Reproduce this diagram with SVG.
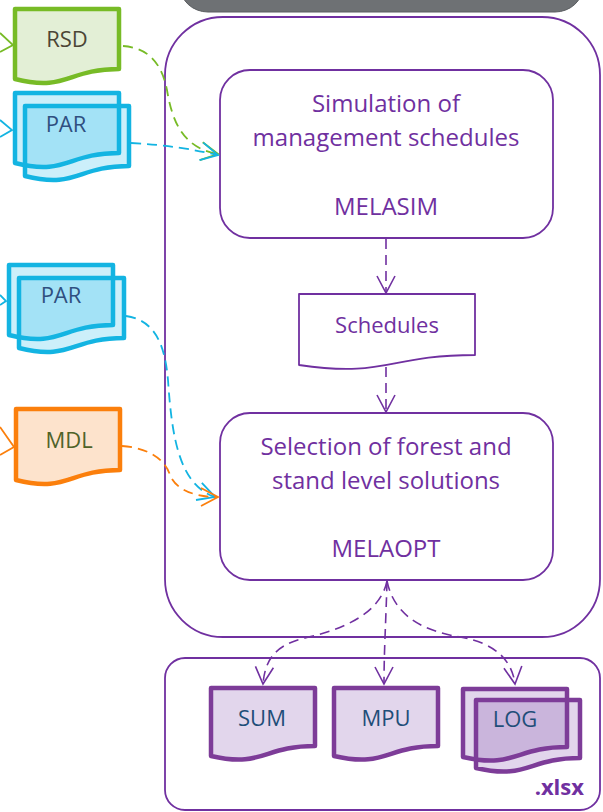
<svg xmlns="http://www.w3.org/2000/svg" width="603" height="812" viewBox="0 0 603 812">
<style>
text{font-family:"Open Sans","Liberation Sans",Arial,sans-serif}
.box{fill:#fff;stroke:#7030a0;stroke-width:1.8}
.ptxt{fill:#7030a0;font-size:24px;text-anchor:middle}
.doc{stroke-width:4.5;stroke-linejoin:round}
.dtxt{font-size:22px;text-anchor:middle}
.pl{fill:none;stroke:#7030a0;stroke-width:1.6;stroke-dasharray:10 6}
.gl{fill:none;stroke:#77bb26;stroke-width:1.8;stroke-dasharray:10 6}
.cl{fill:none;stroke:#13b4e2;stroke-width:1.8;stroke-dasharray:10 6}
.ol{fill:none;stroke:#fb7f0c;stroke-width:1.8;stroke-dasharray:10 6}
</style>
<defs>
<marker id="ap" markerUnits="userSpaceOnUse" viewBox="-20 -12 24 24" refX="0" refY="0" markerWidth="24" markerHeight="24" orient="auto"><path d="M-17,-9 L0,0 L-17,9" fill="none" stroke="#7030a0" stroke-width="1.6"/></marker>
<marker id="ag" markerUnits="userSpaceOnUse" viewBox="-20 -12 24 24" refX="0" refY="0" markerWidth="24" markerHeight="24" orient="auto"><path d="M-17,-9 L0,0 L-17,9" fill="none" stroke="#77bb26" stroke-width="1.8"/></marker>
<marker id="ac" markerUnits="userSpaceOnUse" viewBox="-20 -12 24 24" refX="0" refY="0" markerWidth="24" markerHeight="24" orient="auto"><path d="M-17,-9 L0,0 L-17,9" fill="none" stroke="#13b4e2" stroke-width="1.8"/></marker>
<marker id="ao" markerUnits="userSpaceOnUse" viewBox="-20 -12 24 24" refX="0" refY="0" markerWidth="24" markerHeight="24" orient="auto"><path d="M-17,-9 L0,0 L-17,9" fill="none" stroke="#fb7f0c" stroke-width="1.8"/></marker>
</defs>

<g id="top-bar"><rect x="180" y="-40" width="403" height="52" rx="28" fill="#6e7174" stroke="#5a5d60" stroke-width="1"/></g>

<g id="container"><rect class="box" x="165" y="17" width="435" height="620" rx="58"/></g>
<g id="output-container">
<rect class="box" x="165" y="658" width="435" height="152" rx="20"/>
<text x="584" y="795" text-anchor="end" font-size="22" font-weight="bold" fill="#7030a0">.xlsx</text>
</g>

<g id="melasim">
<rect class="box" x="220" y="70" width="333" height="168" rx="30"/>
<text class="ptxt" x="386" y="112">Simulation of</text>
<text class="ptxt" x="386" y="146">management schedules</text>
<text class="ptxt" x="386" y="215">MELASIM</text>
</g>

<g id="schedules">
<path d="M299,294 H475 V355 C387,355 387,378 299,365 Z" fill="#fff" stroke="#7030a0" stroke-width="1.8" stroke-linejoin="round"/>
<text x="387" y="333" font-size="22" text-anchor="middle" fill="#7030a0">Schedules</text>
</g>

<g id="melaopt">
<rect class="box" x="220" y="413" width="333" height="167" rx="30"/>
<text class="ptxt" x="386" y="455">Selection of forest and</text>
<text class="ptxt" x="386" y="489">stand level solutions</text>
<text class="ptxt" x="386" y="557">MELAOPT</text>
</g>

<g id="rsd">
<path class="doc" d="M15,9 H119 V69 C67,69 67,92 15,79 Z" fill="#e3efd6" stroke="#77bb26"/>
<text class="dtxt" x="67" y="47" font-size="21" fill="#4b4535">RSD</text>
</g>

<g id="par1">
<path d="M15,93 H119 V153 C67,153 67,176 15,163 Z" fill="#00aee6" fill-opacity="0.2"/>
<path d="M25,106 H129 V166 C77,166 77,189 25,176 Z" fill="#00aee6" fill-opacity="0.2"/>
<path class="doc" d="M15,93 H119 V153 C67,153 67,176 15,163 Z" fill="none" stroke="#13b4e2"/>
<path class="doc" d="M25,106 H129 V166 C77,166 77,189 25,176 Z" fill="none" stroke="#13b4e2"/>
<text class="dtxt" x="66" y="132" fill="#2f4f80">PAR</text>
</g>

<g id="par2">
<path d="M9,265 H113 V325 C61,325 61,348 9,335 Z" fill="#00aee6" fill-opacity="0.2"/>
<path d="M19,278 H124 V338 C71,338 71,361 19,348 Z" fill="#00aee6" fill-opacity="0.2"/>
<path class="doc" d="M9,265 H113 V325 C61,325 61,348 9,335 Z" fill="none" stroke="#13b4e2"/>
<path class="doc" d="M19,278 H124 V338 C71,338 71,361 19,348 Z" fill="none" stroke="#13b4e2"/>
<text class="dtxt" x="61" y="303" fill="#2f4f80">PAR</text>
</g>

<g id="mdl">
<path class="doc" d="M16,409 H120 V470 C68,470 68,493 16,480 Z" fill="#fde3cc" stroke="#fb7f0c"/>
<text class="dtxt" x="69" y="448" fill="#4f6228">MDL</text>
</g>

<g id="sum">
<path class="doc" d="M211,688 H315 V746 C263,746 263,768 211,756 Z" fill="#7030a0" fill-opacity="0.2" stroke="#7d3c98"/>
<text class="dtxt" x="262" y="726" fill="#1f4e79">SUM</text>
</g>
<g id="mpu">
<path class="doc" d="M334,688 H438 V746 C386,746 386,768 334,756 Z" fill="#7030a0" fill-opacity="0.2" stroke="#7d3c98"/>
<text class="dtxt" x="386" y="726" fill="#1f4e79">MPU</text>
</g>
<g id="log">
<path d="M463,689 H567 V747 C515,747 515,769 463,757 Z" fill="#7030a0" fill-opacity="0.2"/>
<path d="M476,700 H580 V758 C528,758 528,780 476,768 Z" fill="#7030a0" fill-opacity="0.2"/>
<path class="doc" d="M463,689 H567 V747 C515,747 515,769 463,757 Z" fill="none" stroke="#7d3c98"/>
<path class="doc" d="M476,700 H580 V758 C528,758 528,780 476,768 Z" fill="none" stroke="#7d3c98"/>
<text class="dtxt" x="515" y="727" fill="#1f4e79">LOG</text>
</g>

<g id="connectors">
<polyline points="0,33 13,45 0,52" fill="none" stroke="#77bb26" stroke-width="1.8"/>
<polyline points="0,120 12,130 0,137" fill="none" stroke="#13b4e2" stroke-width="1.8"/>
<polyline points="0,295 6,301 0,305" fill="none" stroke="#13b4e2" stroke-width="1.8"/>
<polyline points="0,427 14,447 0,455" fill="none" stroke="#fb7f0c" stroke-width="1.8"/>
<path class="gl" d="M123,46 C150,48 162,65 167,90 C172,120 182,148 218,154" marker-end="url(#ag)"/>
<path class="cl" d="M131,143 C170,145 195,150 218,155" marker-end="url(#ac)"/>
<path class="cl" d="M126,316 C155,320 165,345 168,380 C172,440 180,485 215,497" marker-end="url(#ac)"/>
<path class="ol" d="M122,446 C150,448 165,460 170,475 C176,490 195,497 218,497" marker-end="url(#ao)"/>
<path class="pl" d="M386,239 V293" marker-end="url(#ap)"/>
<path class="pl" d="M386,367 V412" marker-end="url(#ap)"/>
<path class="pl" d="M387,581 C380,615 340,630 305,638 C275,645 265,660 263,684" marker-end="url(#ap)"/>
<path class="pl" d="M387,581 C386,620 384,650 384,684" marker-end="url(#ap)"/>
<path class="pl" d="M387,581 C395,620 430,632 460,637 C495,643 512,660 515,684" marker-end="url(#ap)"/>
</g>
</svg>
